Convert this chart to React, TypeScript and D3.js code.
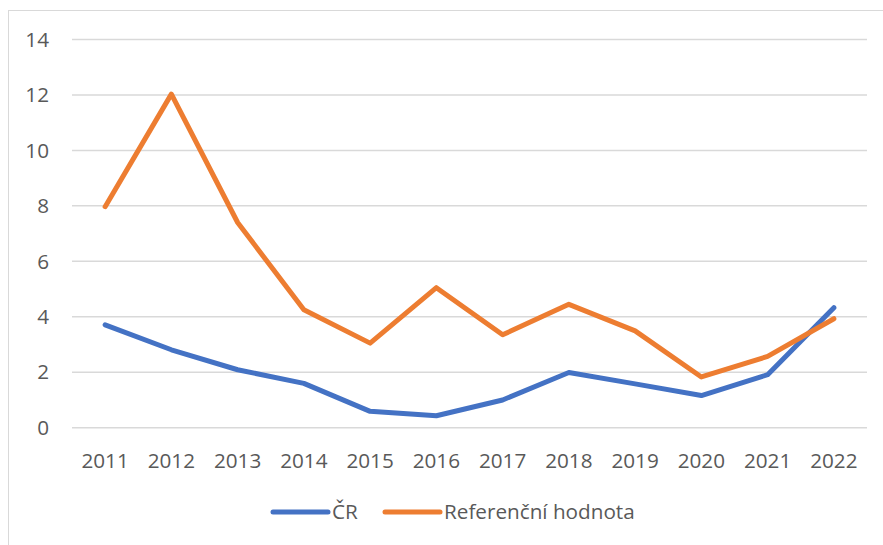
import * as d3 from 'd3'
import { useRef, useEffect } from 'react'

const years = ['2011', '2012', '2013', '2014', '2015', '2016', '2017', '2018', '2019', '2020', '2021', '2022']
const crValues = [3.71, 2.81, 2.09, 1.6, 0.59, 0.43, 1.0, 1.99, 1.58, 1.16, 1.91, 4.33]
const refValues = [7.97, 12.03, 7.4, 4.25, 3.05, 5.05, 3.35, 4.45, 3.49, 1.83, 2.57, 3.93]
const yTicks = [0, 2, 4, 6, 8, 10, 12, 14]
const seriesNames = ['ČR', 'Referenční hodnota']
const seriesColors = ['#4472C4', '#ED7D31']

const W = 883
const H = 545

const App = () => {
  const svgRef = useRef<SVGSVGElement>(null)

  useEffect(() => {
    const svg = d3.select(svgRef.current)
    svg.selectAll('*').remove() // clear

    const font = '"Open Sans", sans-serif'
    const fontSize = 20.7
    const textColor = '#595959'

    // chart frame
    svg
      .append('rect')
      .attr('x', 8.5)
      .attr('y', 10.5)
      .attr('width', W)
      .attr('height', H)
      .attr('fill', '#fff')
      .attr('stroke', '#D9D9D9')

    const left = 72
    const right = 867
    const top = 39.5
    const bottom = 427.7

    const xScale = d3.scaleBand().domain(years).range([left, right])
    const yScale = d3.scaleLinear().domain([0, 14]).range([bottom, top])

    // gridlines
    svg
      .append('g')
      .selectAll('line')
      .data(yTicks)
      .enter()
      .append('line')
      .attr('x1', left)
      .attr('x2', right)
      .attr('y1', d => yScale(d))
      .attr('y2', d => yScale(d))
      .attr('stroke', '#D9D9D9')
      .attr('stroke-width', 1.5)

    // y labels
    svg
      .append('g')
      .selectAll('text')
      .data(yTicks)
      .enter()
      .append('text')
      .attr('x', 49)
      .attr('y', d => yScale(d))
      .attr('dy', '0.35em')
      .attr('text-anchor', 'end')
      .attr('font-family', font)
      .attr('font-size', fontSize)
      .attr('fill', textColor)
      .text(d => d)

    // x labels
    svg
      .append('g')
      .selectAll('text')
      .data(years)
      .enter()
      .append('text')
      .attr('x', d => xScale(d)! + xScale.bandwidth() / 2)
      .attr('y', 461)
      .attr('dy', '0.35em')
      .attr('text-anchor', 'middle')
      .attr('font-family', font)
      .attr('font-size', fontSize)
      .attr('fill', textColor)
      .text(d => d)

    // lines
    const line = d3
      .line<number>()
      .x((_, i) => xScale(years[i])! + xScale.bandwidth() / 2)
      .y(d => yScale(d))

    ;[crValues, refValues].forEach((vals, i) => {
      svg
        .append('path')
        .datum(vals)
        .attr('d', line)
        .attr('fill', 'none')
        .attr('stroke', seriesColors[i])
        .attr('stroke-width', 5)
        .attr('stroke-linecap', 'round')
        .attr('stroke-linejoin', 'round')
    })

    // legend
    const legendX = [273, 385]
    const legend = svg.append('g')
    seriesNames.forEach((name, i) => {
      legend
        .append('line')
        .attr('x1', legendX[i])
        .attr('x2', legendX[i] + 55)
        .attr('y1', 512)
        .attr('y2', 512)
        .attr('stroke', seriesColors[i])
        .attr('stroke-width', 5)
        .attr('stroke-linecap', 'round')
      legend
        .append('text')
        .attr('x', legendX[i] + 59)
        .attr('y', 512)
        .attr('dy', '0.35em')
        .attr('font-family', font)
        .attr('font-size', fontSize)
        .attr('fill', textColor)
        .text(name)
    })
  }, [])

  return (
    <svg
      ref={svgRef}
      width={W}
      height={H}
      style={{ position: 'absolute', left: 0, top: 0 }}
    ></svg>
  )
}

export default App
